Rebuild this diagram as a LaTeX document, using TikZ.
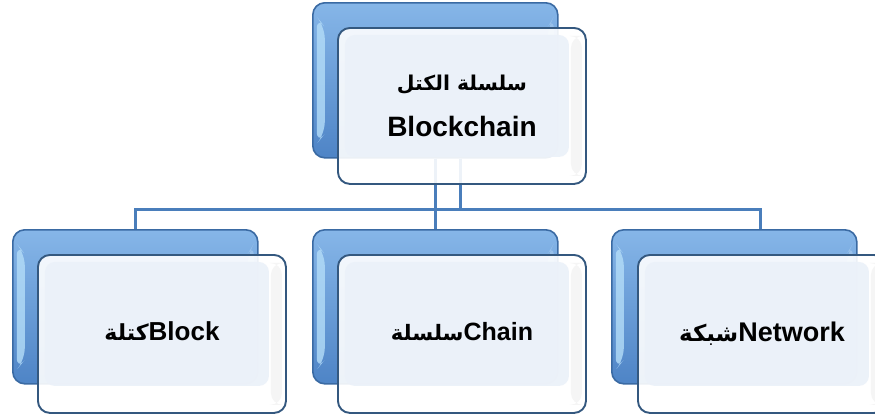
\documentclass[tikz,border=0pt]{standalone}
\usepackage{fontspec}
\setmainfont{Liberation Sans}
\newfontfamily\arabicfont[Script=Arabic,Scale=0.85]{DejaVu Sans}
\TeXXeTstate=1
\definecolor{backtop}{HTML}{86B6E8}
\definecolor{backbot}{HTML}{4E84C6}
\definecolor{backborder}{HTML}{3A6AA3}
\definecolor{backlight}{HTML}{B4DDF8}
\definecolor{frontborder}{HTML}{34587F}
\definecolor{innerfill}{HTML}{EBF1F9}
\definecolor{linkcol}{HTML}{4A7EBB}
\tikzset{
  backbox/.style={rounded corners=12pt, draw=backborder, line width=1.6pt,
    top color=backtop, bottom color=backbot, minimum width=245pt, minimum height=155pt,
    inner sep=0pt, anchor=north west,
    path picture={
      \fill[backlight, opacity=0.8] ([shift={(4pt,-14pt)}]path picture bounding box.north west)
        -- ([shift={(12pt,-24pt)}]path picture bounding box.north west)
        -- ([shift={(12pt,24pt)}]path picture bounding box.south west)
        -- ([shift={(4pt,14pt)}]path picture bounding box.south west) -- cycle;
      \fill[backtop!70!white, opacity=0.6] ([shift={(-4pt,-14pt)}]path picture bounding box.north east)
        -- ([shift={(-10pt,-24pt)}]path picture bounding box.north east)
        -- ([shift={(-10pt,24pt)}]path picture bounding box.south east)
        -- ([shift={(-4pt,14pt)}]path picture bounding box.south east) -- cycle;
    }},
  frontbox/.style={rounded corners=12pt, draw=frontborder, line width=1.9pt,
    fill=white, fill opacity=0.9, text opacity=1, minimum width=248pt, minimum height=158pt,
    inner sep=0pt, anchor=north west, font=\bfseries,
    path picture={
      \fill[gray!9] ([shift={(-15pt,-8pt)}]path picture bounding box.north east)
        rectangle ([shift={(-4pt,8pt)}]path picture bounding box.south east);
      \fill[innerfill, rounded corners=10pt] ([shift={(7pt,-7pt)}]path picture bounding box.north west)
        rectangle ([shift={(-17pt,27pt)}]path picture bounding box.south east);
    }},
  link/.style={draw=linkcol, line width=3pt},
  lbl/.style={font=\fontsize{26}{30}\selectfont\bfseries}
}
\begin{document}
\begin{tikzpicture}[x=1pt,y=-1pt]
\useasboundingbox (0,0) rectangle (875,415);
\clip (0,0) rectangle (875,415);
% back boxes
\node[backbox] (topback) at (312,2) {};
\node[backbox, minimum height=154pt] (leftback) at (12,229) {};
\node[backbox, minimum height=154pt] (midback) at (312,229) {};
\node[backbox, minimum height=154pt] (rightback) at (611,229) {};
% connectors
\coordinate (bus) at (460,209);
\draw[link] (topback.south) -- (midback.north);
\draw[link] (topback.south -| bus) -- (bus);
\draw[link] (bus) -| (leftback.north);
\draw[link] (bus) -| (760,229);
% front boxes
\node[frontbox, minimum height=156pt, align=center,
  font=\fontsize{28}{46}\selectfont\bfseries] (topfront) at (337,27)
  {{\fontsize{24}{46}\selectfont\arabicfont\beginR سلسلة الكتل\endR}\\Blockchain};
\node[frontbox, lbl] (leftfront) at (37,254) {\raisebox{5pt}{{\arabicfont\beginR كتلة\endR}Block}};
\node[frontbox, font=\fontsize{25}{30}\selectfont\bfseries] (midfront) at (337,254) {\raisebox{5pt}{{\arabicfont\beginR سلسلة\endR}Chain}};
\node[frontbox, font=\fontsize{27}{30}\selectfont\bfseries] (rightfront) at (637,254) {\raisebox{5pt}{{\arabicfont\beginR شبكة\endR}Network}};
\end{tikzpicture}
\end{document}
